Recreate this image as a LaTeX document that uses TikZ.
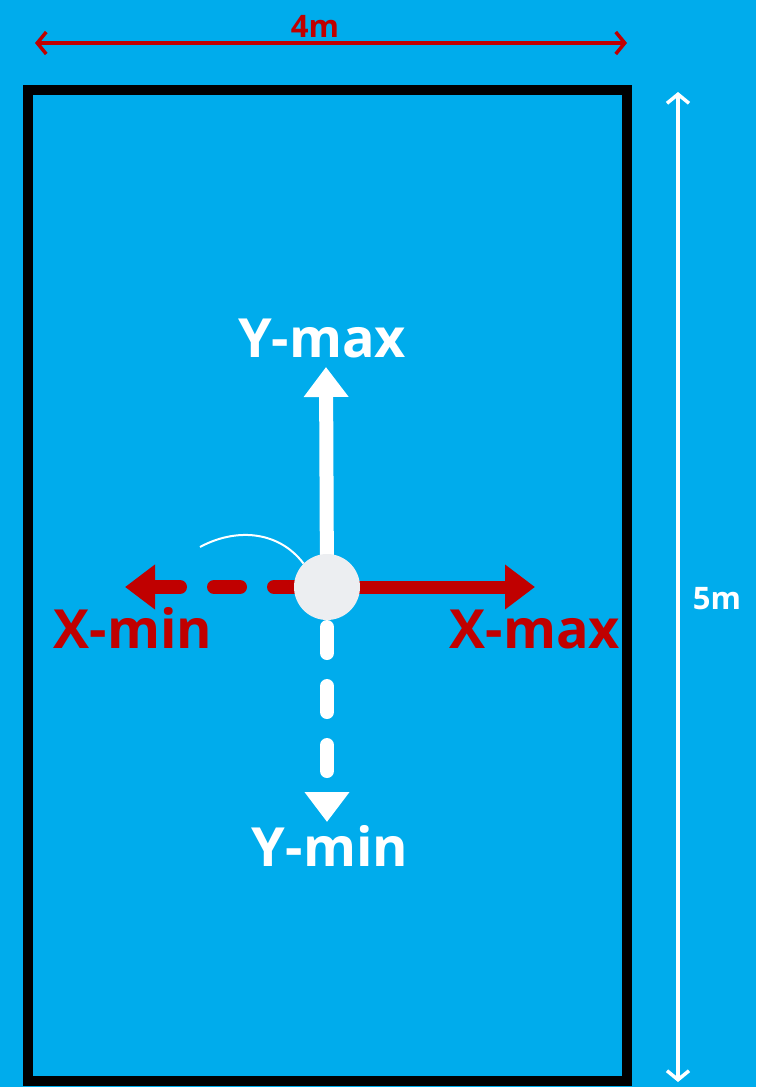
\documentclass[tikz,border=0pt]{standalone}
\usepackage{fontspec}
\setmainfont{Open Sans}
\usetikzlibrary{arrows.meta}
\definecolor{pool}{RGB}{0,172,236}
\definecolor{darkred}{RGB}{192,0,0}
\definecolor{dotgrey}{RGB}{236,238,241}

\begin{document}
\begin{tikzpicture}[x=1pt,y=-1pt]
	\fill[pool] (0,0) rectangle (756,1087);
	\useasboundingbox (0,0) rectangle (756,1087);
	\tikzstyle{big}=[font=\fontsize{54}{54}\selectfont\bfseries,inner sep=0pt,anchor=base]
	\tikzstyle{small}=[font=\fontsize{31}{31}\selectfont\bfseries,inner sep=0pt,anchor=base]
	\tikzstyle{dim}=[line width=3.5pt,{Straight Barb[length=9pt,width=22pt]}-{Straight Barb[length=9pt,width=22pt]}]
	\tikzstyle{fat}=[-{Triangle[length=30pt,width=43pt]}]
	\tikzstyle{gaps}=[line cap=round,dash pattern=on 26pt off 34pt]
	% room
	\draw[line width=10pt] (28,90) rectangle (627,1081);
	% sizes
	\coordinate (wl) at (35,43);
	\coordinate (wr) at (627,43);
	\coordinate (ht) at (678,92);
	\coordinate (hb) at (678,1082);
	\draw[dim,darkred] (wl) -- (wr);
	\draw[dim,white] (ht) -- (hb);
	\node[small,darkred] (w) at (315,37) {4m};
	\node[small,white] (h) at (717,609) {5m};
	% axes
	\coordinate (o) at (327,587);
	\coordinate (ymaxtip) at (326,367);
	\coordinate (ymintip) at (327,822);
	\coordinate (xmintip) at (125,587);
	\coordinate (xmaxtip) at (535,587);
	\draw[fat,white,line width=14pt] (o) -- (ymaxtip);
	\draw[fat,white,line width=14pt,gaps,dash pattern=on 26pt off 33pt,dash phase=19pt] (o) -- (ymintip);
	\draw[fat,darkred,line width=13pt] (o) -- (xmaxtip);
	\draw[fat,darkred,line width=14pt,gaps,dash phase=33pt] (o) -- (xmintip);
	\node[circle,fill=dotgrey,minimum size=66pt,inner sep=0pt] (dot) at (o) {};
	\coordinate (hair) at (200,547);
	\draw[white,line width=2pt] (hair) .. controls (235,528) and (278,530) .. (dot.135);
	\node[big,white] (ymax) at (322,357) {Y-max};
	\node[big,white] (ymin) at (330,866) {Y-min};
	\node[big,darkred] (xmin) at (133,648) {X-min};
	\node[big,darkred] (xmax) at (535,648) {X-max};
\end{tikzpicture}
\end{document}
